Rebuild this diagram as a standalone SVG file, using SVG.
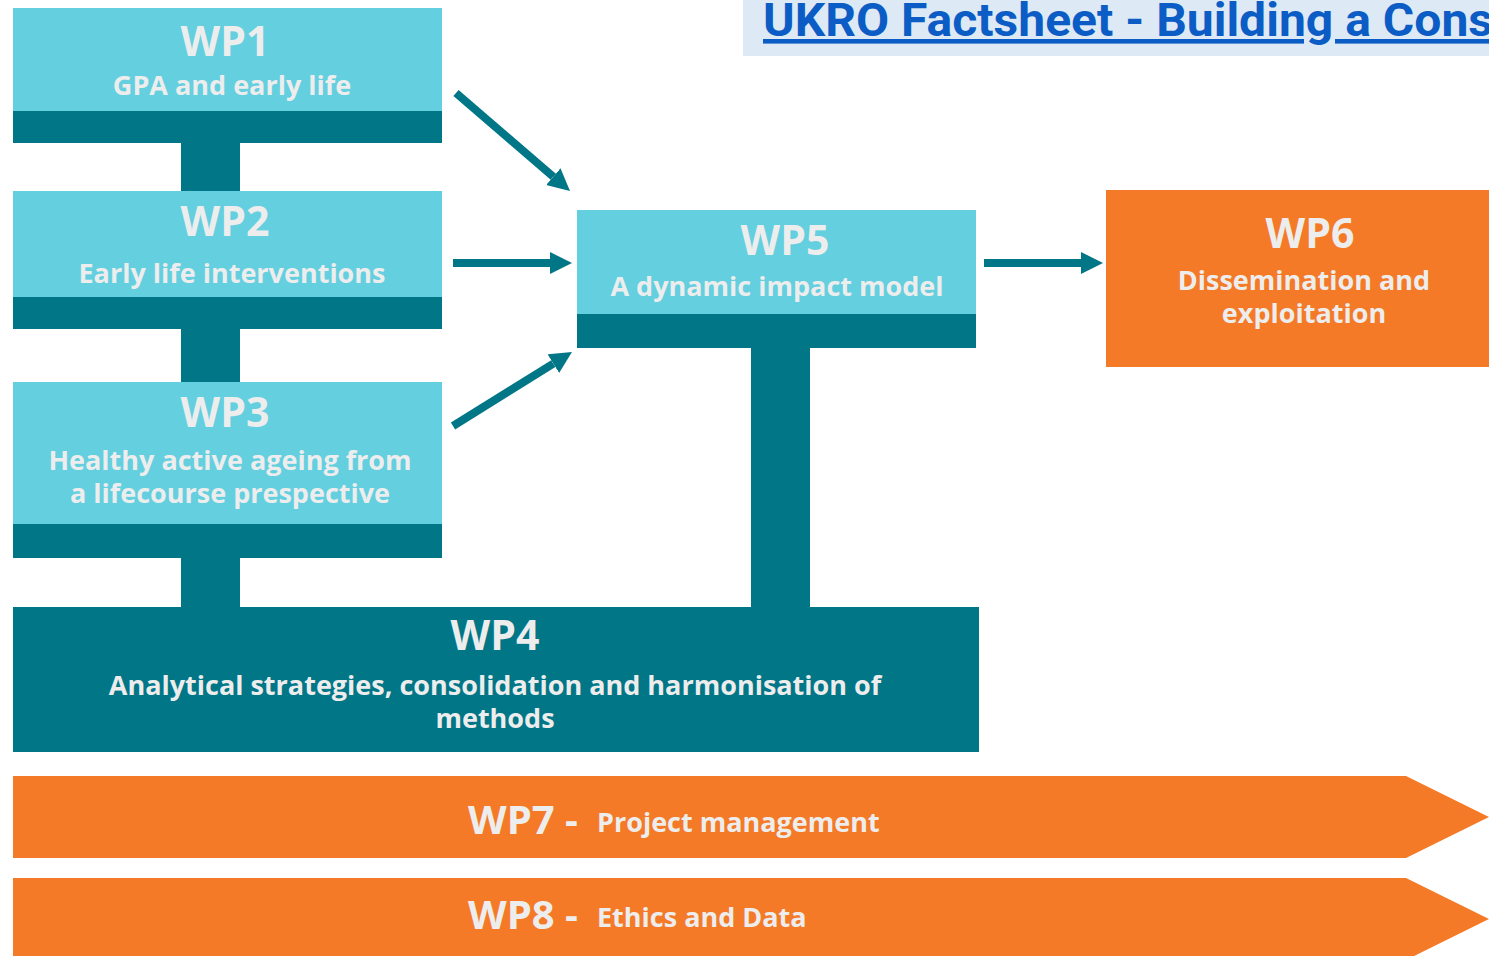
<svg xmlns="http://www.w3.org/2000/svg" width="1489" height="956" viewBox="0 0 1489 956">
<defs>
<style>
.light{fill:#63CFDF}
.dark{fill:#017687}
.orange{fill:#F47A27}
.t{font-family:"Open Sans","Noto Sans",sans-serif;font-weight:bold;fill:#EDEDED;text-anchor:middle}
.h{font-size:41px}
.s{font-size:27px}
.conn{stroke:#017687;stroke-width:8;fill:none}
</style>
<marker id="ah" viewBox="0 0 10 10" refX="0" refY="5" markerWidth="2.75" markerHeight="2.9" orient="auto" markerUnits="strokeWidth">
<path d="M0,0 L10,5 L0,10 z" fill="#017687"/>
</marker>
</defs>
<rect width="1489" height="956" fill="#FFFFFF"/>
<g id="title">
<rect x="743" y="0" width="746" height="56" fill="#DDE9F5"/>
<text x="763" y="36" font-family="Roboto,'Liberation Sans',sans-serif" font-weight="bold" font-size="46" fill="#0B5CC4" text-decoration="underline" textLength="730" lengthAdjust="spacingAndGlyphs">UKRO Factsheet - Building a Cons</text>
</g>
<g id="stems">
<rect class="dark" x="181" y="143" width="59" height="48"/>
<rect class="dark" x="181" y="329" width="59" height="53"/>
<rect class="dark" x="181" y="558" width="59" height="49"/>
<rect class="dark" x="751" y="348" width="59" height="259"/>
</g>
<g id="wp1">
<rect class="light" x="13" y="8" width="429" height="103"/>
<rect class="dark" x="13" y="111" width="429" height="32"/>
<text class="t h" x="225" y="56">WP1</text>
<text class="t s" x="232" y="95">GPA and early life</text>
</g>
<g id="wp2">
<rect class="light" x="13" y="191" width="429" height="106"/>
<rect class="dark" x="13" y="297" width="429" height="32"/>
<text class="t h" x="225" y="236">WP2</text>
<text class="t s" x="232" y="283">Early life interventions</text>
</g>
<g id="wp3">
<rect class="light" x="13" y="382" width="429" height="142"/>
<rect class="dark" x="13" y="524" width="429" height="34"/>
<text class="t h" x="225" y="427">WP3</text>
<text class="t s" x="230" y="470">Healthy active ageing from</text>
<text class="t s" x="230" y="503">a lifecourse prespective</text>
</g>
<g id="wp5">
<rect class="light" x="577" y="210" width="399" height="104"/>
<rect class="dark" x="577" y="314" width="399" height="34"/>
<text class="t h" x="785" y="255">WP5</text>
<text class="t s" x="777" y="296">A dynamic impact model</text>
</g>
<g id="wp6">
<rect class="orange" x="1106" y="190" width="383" height="177"/>
<text class="t h" x="1310" y="248">WP6</text>
<text class="t s" x="1304" y="290">Dissemination and</text>
<text class="t s" x="1304" y="323">exploitation</text>
</g>
<g id="wp4">
<rect class="dark" x="13" y="607" width="966" height="145"/>
<text class="t h" x="495" y="650">WP4</text>
<text class="t s" x="495" y="695">Analytical strategies, consolidation and harmonisation of</text>
<text class="t s" x="495" y="728">methods</text>
</g>
<g id="wp7">
<path class="orange" d="M13,776 L1406,776 L1489,817 L1406,858 L13,858 z"/>
<text x="468" y="834" class="t" style="text-anchor:start"><tspan font-size="40">WP7 - </tspan><tspan x="597" y="832" font-size="27">Project management</tspan></text>
</g>
<g id="wp8">
<path class="orange" d="M13,878 L1406,878 L1489,919 L1406,960 L13,960 z"/>
<text x="468" y="929" class="t" style="text-anchor:start"><tspan font-size="40">WP8 - </tspan><tspan x="597" y="927" font-size="27">Ethics and Data</tspan></text>
</g>
<g id="connectors">
<line class="conn" x1="456" y1="93" x2="553.3" y2="176.7" marker-end="url(#ah)"/>
<line class="conn" x1="453" y1="263" x2="550" y2="263" marker-end="url(#ah)"/>
<line class="conn" x1="453" y1="426" x2="553.3" y2="363.6" marker-end="url(#ah)"/>
<line class="conn" x1="984" y1="263" x2="1081" y2="263" marker-end="url(#ah)"/>
</g>
</svg>
